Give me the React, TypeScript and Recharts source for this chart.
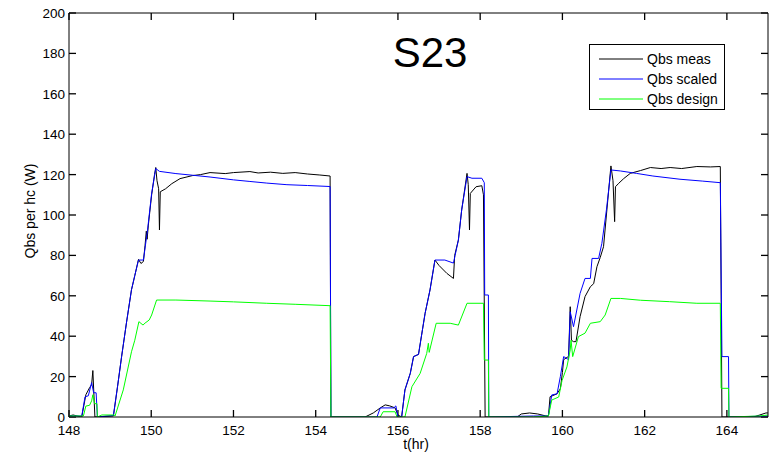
import React from 'react';
import { LineChart, Line, XAxis, YAxis, Legend, ReferenceLine } from 'recharts';

const xTicks = [148, 150, 152, 154, 156, 158, 160, 162, 164];
const yTicks = [0, 20, 40, 60, 80, 100, 120, 140, 160, 180, 200];
const xDomain = [148, 165];
const yDomain = [0, 200];
const seriesNames = ['Qbs meas', 'Qbs scaled', 'Qbs design'];

const measT = [148.0, 148.1, 148.2, 148.3, 148.31, 148.41, 148.5, 148.55, 148.58, 148.63, 149.08, 149.18, 149.28, 149.4, 149.52, 149.6, 149.69, 149.75, 149.81, 149.85, 149.88, 149.9, 149.93, 150.01, 150.08, 150.11, 150.14, 150.18, 150.2, 150.22, 150.35, 150.5, 150.7, 151.0, 151.2, 151.43, 151.8, 152.0, 152.4, 152.6, 152.9, 153.2, 153.5, 153.8, 154.1, 154.35, 154.37, 155.2, 155.4, 155.57, 155.69, 155.8, 155.93, 156.0, 156.09, 156.17, 156.3, 156.38, 156.5, 156.66, 156.78, 156.9, 157.0, 157.19, 157.35, 157.38, 157.47, 157.55, 157.68, 157.71, 157.74, 157.76, 157.9, 158.04, 158.08, 158.12, 158.9, 159.0, 159.2, 159.4, 159.6, 159.66, 159.7, 159.87, 159.95, 160.0, 160.03, 160.15, 160.19, 160.22, 160.27, 160.33, 160.43, 160.55, 160.68, 160.76, 160.84, 160.92, 161.0, 161.07, 161.18, 161.23, 161.27, 161.29, 161.37, 161.49, 161.65, 161.9, 162.14, 162.4, 162.62, 162.9, 163.27, 163.6, 163.84, 163.88, 164.65, 164.8, 164.95, 165.0];
const measQ = [0.5, 1, 0.5, 0, 0, 11, 14.5, 16, 23, 0, 0.5, 15, 30, 47, 63, 70, 78, 76, 77, 85, 92, 88, 95, 110, 120, 123.5, 117, 113, 92.6, 111.5, 113, 115.5, 118, 119.5, 120, 121, 120.5, 121, 121.5, 120.8, 121.2, 120.6, 121, 120.3, 119.8, 119.3, 0, 0, 2, 4.5, 6, 5.5, 4.5, 1, 0, 13.4, 21.6, 29.9, 31, 51.3, 62.9, 77.7, 75, 71.1, 68.6, 80, 87.6, 102.5, 120.6, 115, 92.6, 110.7, 114, 114.5, 110, 0, 0, 1.5, 2, 1.5, 0.5, 0.5, 10, 11.5, 14, 22, 28.4, 30, 54.6, 38, 37.3, 37.3, 49.7, 59.6, 64.5, 66, 74.4, 79, 84.3, 100, 124.3, 117, 96.7, 114, 115.7, 118, 120.6, 122, 123.5, 123, 123.5, 123, 124, 123.8, 124, 0, 0, 1, 2, 2];

const scaledT = [148.0, 148.31, 148.39, 148.47, 148.55, 148.6, 148.66, 148.69, 149.08, 149.18, 149.28, 149.4, 149.52, 149.6, 149.69, 149.81, 149.91, 150.01, 150.11, 150.2, 150.6, 151.0, 151.43, 152.0, 152.4, 152.81, 153.3, 153.8, 154.35, 154.37, 155.49, 155.57, 155.9, 155.95, 156.0, 156.09, 156.17, 156.3, 156.38, 156.5, 156.66, 156.78, 156.9, 157.14, 157.35, 157.47, 157.55, 157.68, 157.8, 158.04, 158.1, 158.11, 158.2, 158.21, 159.3, 159.66, 159.74, 159.87, 159.95, 160.03, 160.15, 160.19, 160.27, 160.43, 160.55, 160.68, 160.72, 160.88, 160.96, 161.07, 161.18, 161.41, 161.8, 162.2, 162.86, 163.4, 163.84, 163.88, 164.04, 164.05, 165.0];
const scaledQ = [0.5, 0.5, 10, 10.5, 17, 12, 12, 0, 0.8, 15, 30, 47, 63, 70, 77.7, 77.7, 92.6, 110.7, 123, 121.6, 120.5, 119.7, 118.8, 117.4, 116.6, 115.8, 115, 114.6, 114.1, 0, 0, 4.5, 4.5, 5.5, 0, 0, 13.4, 21.6, 29.9, 31, 51.3, 62.9, 77.7, 77.7, 76.2, 87.6, 102.5, 119, 118.2, 118.2, 116, 60.4, 60.4, 0, 0.5, 0.5, 10.9, 11.5, 20, 29.9, 28.4, 52.1, 44.7, 61.2, 68.6, 68.6, 78.5, 78.5, 86, 102.5, 122.3, 121.8, 120.6, 119.3, 117.7, 116.8, 116, 29.9, 29.9, 0, 0.5];

const designT = [148.0, 148.35, 148.41, 148.5, 148.55, 148.58, 148.62, 148.68, 148.69, 148.8, 149.1, 149.12, 149.32, 149.52, 149.6, 149.7, 149.8, 149.85, 149.95, 150.01, 150.13, 150.6, 151.43, 152.0, 152.81, 153.5, 154.35, 154.37, 155.57, 155.64, 155.93, 155.98, 156.17, 156.34, 156.54, 156.7, 156.74, 156.76, 156.93, 157.27, 157.47, 157.68, 158.08, 158.1, 158.2, 158.21, 159.3, 159.66, 159.74, 159.91, 159.99, 160.11, 160.19, 160.21, 160.25, 160.39, 160.55, 160.68, 160.92, 161.04, 161.18, 161.41, 161.9, 162.6, 163.27, 163.84, 163.86, 164.04, 164.05, 164.8, 165.0];
const designQ = [0.5, 0.5, 5.4, 5.8, 8, 11, 6.6, 6.6, 0, 1, 1, 0.5, 13.4, 32.3, 38, 47.2, 45.5, 46.5, 48, 50.5, 57.9, 57.9, 57.4, 57, 56.3, 55.8, 55.1, 0, 0, 2.6, 2.6, 0, 0, 15, 21.6, 31.5, 36.5, 32, 46.4, 46.4, 45.5, 56.3, 56.3, 28.2, 28.2, 0, 0, 0.5, 8.4, 9.9, 18, 24.8, 33.2, 38, 29.9, 39.8, 41.5, 46.4, 47.2, 50.5, 58.7, 58.7, 57.8, 57.1, 56.3, 56.3, 14.2, 14.2, 0, 0.5, 1];

const toRows = (ts: number[], qs: number[]) => ts.map((t, i) => ({ t, q: qs[i] }));
const measData = toRows(measT, measQ);
const scaledData = toRows(scaledT, scaledQ);
const designData = toRows(designT, designQ);

const FONT = '"Liberation Sans", Arial, Helvetica, sans-serif';
const W = 775;
const H = 458;
const M = { top: 12, right: 6, bottom: 0, left: 0 };
const Y_AXIS_W = 69;
const X_AXIS_H = 41;
const PLOT_LEFT = M.left + Y_AXIS_W;
const PLOT_BOTTOM = H - M.bottom - X_AXIS_H;
// inward tick length as a fraction of each axis span (~7px)
const X_TICK_LEN = (xDomain[1] - xDomain[0]) * 0.01;
const Y_TICK_LEN = (yDomain[1] - yDomain[0]) * 0.0173;

const BottomLabel = (p: any) => (
  <text x={p.x} y={PLOT_BOTTOM + 18} textAnchor="middle" fontSize={13.5} fontFamily={FONT} fill="#000">
    {p.payload.value}
  </text>
);
const LeftLabel = (p: any) => (
  <text x={PLOT_LEFT - 4} y={p.y + 5} textAnchor="end" fontSize={13.5} fontFamily={FONT} fill="#000">
    {p.payload.value}
  </text>
);
const NoLabel = () => <g />;

const LegendBox = (props: any) => {
  const items = (props.payload || [])
    .filter((it: any) => seriesNames.includes(it.value))
    .sort((a: any, b: any) => seriesNames.indexOf(a.value) - seriesNames.indexOf(b.value));
  return (
    <div
      style={{
        width: 134,
        height: 60,
        border: '1px solid #000',
        background: '#fff',
        fontFamily: FONT,
        fontSize: 14,
        paddingTop: 4,
        boxSizing: 'content-box',
      }}
    >
      {items.map((it: any) => (
        <div key={it.value} style={{ height: 20, display: 'flex', alignItems: 'center', lineHeight: '20px' }}>
          <svg width={57} height={20} style={{ flex: 'none' }}>
            <line x1={9} y1={10} x2={53} y2={10} stroke={it.color} strokeWidth={1} />
          </svg>
          <span style={{ color: '#000', whiteSpace: 'nowrap' }}>{it.value}</span>
        </div>
      ))}
    </div>
  );
};

const axisStroke = { stroke: '#000', strokeWidth: 1 };

export default function App() {
  const tickMarks: any[] = [];
  xTicks.forEach((t) => {
    tickMarks.push(
      <ReferenceLine key={'xb' + t} xAxisId="b" yAxisId="l" ifOverflow="visible" stroke="#000" strokeWidth={1.3}
        segment={[{ x: t, y: yDomain[0] }, { x: t, y: yDomain[0] + Y_TICK_LEN }]} />
    );
    tickMarks.push(
      <ReferenceLine key={'xt' + t} xAxisId="b" yAxisId="l" ifOverflow="visible" stroke="#000" strokeWidth={1.3}
        segment={[{ x: t, y: yDomain[1] }, { x: t, y: yDomain[1] - Y_TICK_LEN }]} />
    );
  });
  yTicks.forEach((v) => {
    tickMarks.push(
      <ReferenceLine key={'yl' + v} xAxisId="b" yAxisId="l" ifOverflow="visible" stroke="#000" strokeWidth={1.3}
        segment={[{ x: xDomain[0], y: v }, { x: xDomain[0] + X_TICK_LEN, y: v }]} />
    );
    tickMarks.push(
      <ReferenceLine key={'yr' + v} xAxisId="b" yAxisId="l" ifOverflow="visible" stroke="#000" strokeWidth={1.3}
        segment={[{ x: xDomain[1], y: v }, { x: xDomain[1] - X_TICK_LEN, y: v }]} />
    );
  });

  return (
    <div style={{ position: 'fixed', left: 0, top: 0, width: W, height: H, background: '#fff' }}>
      <LineChart width={W} height={H} margin={M}>
        <XAxis
          xAxisId="b"
          dataKey="t"
          type="number"
          domain={xDomain}
          allowDataOverflow
          ticks={xTicks}
          interval={0}
          height={X_AXIS_H}
          tickSize={0}
          tickMargin={0}
          tickLine={false}
          axisLine={axisStroke}
          tick={BottomLabel}
        />
        <XAxis
          xAxisId="top"
          orientation="top"
          dataKey="t"
          type="number"
          domain={xDomain}
          allowDataOverflow
          ticks={xTicks}
          interval={0}
          height={1}
          tickSize={0}
          tickMargin={0}
          tickLine={false}
          axisLine={axisStroke}
          tick={NoLabel}
        />
        <YAxis
          yAxisId="l"
          type="number"
          domain={yDomain}
          allowDataOverflow
          ticks={yTicks}
          interval={0}
          width={Y_AXIS_W}
          tickSize={0}
          tickMargin={0}
          tickLine={false}
          axisLine={axisStroke}
          tick={LeftLabel}
        />
        <YAxis
          yAxisId="r"
          orientation="right"
          type="number"
          domain={yDomain}
          allowDataOverflow
          ticks={yTicks}
          interval={0}
          width={1}
          tickSize={0}
          tickMargin={0}
          tickLine={false}
          axisLine={axisStroke}
          tick={NoLabel}
        />
        {tickMarks}
        <Line
          xAxisId="top"
          yAxisId="r"
          data={measData}
          dataKey="q"
          name="frame"
          stroke="none"
          strokeOpacity={0}
          dot={false}
          activeDot={false}
          legendType="none"
          isAnimationActive={false}
        />
        <Line
          xAxisId="b"
          yAxisId="l"
          data={measData}
          dataKey="q"
          name={seriesNames[0]}
          stroke="#000000"
          strokeWidth={1}
          dot={false}
          type="linear"
          isAnimationActive={false}
        />
        <Line
          xAxisId="b"
          yAxisId="l"
          data={scaledData}
          dataKey="q"
          name={seriesNames[1]}
          stroke="#0000FF"
          strokeWidth={1}
          dot={false}
          type="linear"
          isAnimationActive={false}
        />
        <Line
          xAxisId="b"
          yAxisId="l"
          data={designData}
          dataKey="q"
          name={seriesNames[2]}
          stroke="#00FF00"
          strokeWidth={1}
          dot={false}
          type="linear"
          isAnimationActive={false}
        />
        <Legend
          layout="vertical"
          align="center"
          verticalAlign="middle"
          wrapperStyle={{ position: 'absolute', left: 589, top: 44, width: 136, height: 66 }}
          content={LegendBox}
        />
      </LineChart>
      <div
        style={{
          position: 'absolute',
          left: 430,
          top: 32,
          transform: 'translateX(-50%)',
          fontFamily: FONT,
          fontSize: 42,
          lineHeight: '42px',
          whiteSpace: 'nowrap',
          color: '#000',
        }}
      >
        S23
      </div>
      <div
        style={{
          position: 'absolute',
          left: 416,
          top: 437,
          transform: 'translateX(-50%)',
          fontFamily: FONT,
          fontSize: 14,
          lineHeight: '14px',
          whiteSpace: 'nowrap',
          color: '#000',
        }}
      >
        t(hr)
      </div>
      <div
        style={{
          position: 'absolute',
          left: 30,
          top: 211,
          transform: 'translate(-50%, -50%) rotate(-90deg)',
          fontFamily: FONT,
          fontSize: 14,
          lineHeight: '14px',
          whiteSpace: 'nowrap',
          color: '#000',
        }}
      >
        Qbs per hc (W)
      </div>
    </div>
  );
}
